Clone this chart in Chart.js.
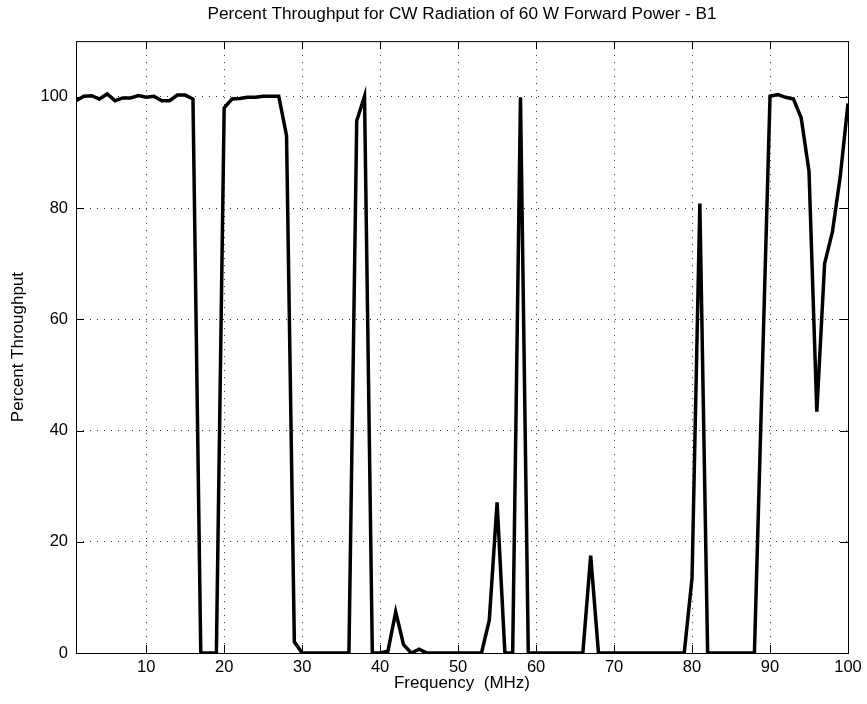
<!DOCTYPE html>
<html>
<head>
<meta charset="utf-8">
<script src="https://cdn.jsdelivr.net/npm/chart.js@4/dist/chart.umd.min.js"></script>
<style>
  html, body { margin: 0; padding: 0; background: #fff; }
  canvas { display: block; }
</style>
</head>
<body>
<canvas id="chart" width="867" height="704"></canvas>
<script>
// Frequency in MHz (1 MHz steps)
const frequencies = [
  1, 2, 3, 4, 5, 6, 7, 8, 9, 10,
  11, 12, 13, 14, 15, 16, 17, 18, 19, 20,
  21, 22, 23, 24, 25, 26, 27, 28, 29, 30,
  31, 32, 33, 34, 35, 36, 37, 38, 39, 40,
  41, 42, 43, 44, 45, 46, 47, 48, 49, 50,
  51, 52, 53, 54, 55, 56, 57, 58, 59, 60,
  61, 62, 63, 64, 65, 66, 67, 68, 69, 70,
  71, 72, 73, 74, 75, 76, 77, 78, 79, 80,
  81, 82, 83, 84, 85, 86, 87, 88, 89, 90,
  91, 92, 93, 94, 95, 96, 97, 98, 99, 100
];

// Percent throughput
const throughput = [
  99.3, 100.1, 100.2, 99.6, 100.5, 99.3, 99.8, 99.8, 100.2, 99.9,
  100.1, 99.3, 99.3, 100.3, 100.3, 99.6, 0, 0, 0, 98,
  99.6, 99.7, 99.9, 99.9, 100.1, 100.1, 100.1, 93, 2, 0,
  0, 0, 0, 0, 0, 0, 95.7, 100.1, 0, 0,
  0.3, 7.4, 1.5, 0, 0.7, 0, 0, 0, 0, 0,
  0, 0, 0, 5.9, 27.1, 0, 0, 99.9, 0, 0,
  0, 0, 0, 0, 0, 0, 17.5, 0, 0, 0,
  0, 0, 0, 0, 0, 0, 0, 0, 0, 13.5,
  80.8, 0, 0, 0, 0, 0, 0, 0, 50, 100.1,
  100.4, 99.9, 99.6, 96.2, 86.6, 43.4, 70, 75.7, 85.6, 98.8
];

const xTicks = [10, 20, 30, 40, 50, 60, 70, 80, 90, 100];
const yTicks = [0, 20, 40, 60, 80, 100];

const FONT = "'Liberation Sans', Arial, Helvetica, sans-serif";

// box around the plot plus inward tick marks on all four sides
const framePlugin = {
  id: "frame",
  afterDraw(chart) {
    const { ctx, chartArea: a, scales } = chart;
    ctx.save();
    ctx.strokeStyle = "#000";
    ctx.lineWidth = 1;
    ctx.strokeRect(a.left + 0.5, a.top + 0.5, a.right - a.left, a.bottom - a.top);
    ctx.beginPath();
    const len = 8;
    xTicks.forEach((v) => {
      const px = Math.round(scales.x.getPixelForValue(v)) + 0.5;
      ctx.moveTo(px, a.bottom);
      ctx.lineTo(px, a.bottom - len);
      ctx.moveTo(px, a.top);
      ctx.lineTo(px, a.top + len);
    });
    yTicks.forEach((v) => {
      const py = Math.round(scales.y.getPixelForValue(v)) + 0.5;
      ctx.moveTo(a.left, py);
      ctx.lineTo(a.left + len, py);
      ctx.moveTo(a.right, py);
      ctx.lineTo(a.right - len, py);
    });
    ctx.stroke();
    ctx.restore();
  }
};

new Chart(document.getElementById("chart"), {
  type: "line",
  data: {
    datasets: [
      {
        data: frequencies.map((f, i) => ({ x: f, y: throughput[i] })),
        borderColor: "#000",
        borderWidth: 3.5,
        borderJoinStyle: "miter",
        pointRadius: 0,
        tension: 0,
        fill: false
      }
    ]
  },
  options: {
    responsive: false,
    animation: false,
    layout: { padding: { left: 0, right: 19, top: 0, bottom: 0 } },
    plugins: {
      legend: { display: false },
      tooltip: { enabled: false },
      title: {
        display: true,
        fullSize: false,
        text: "Percent Throughput for CW Radiation of 60 W Forward Power - B1",
        color: "#000",
        font: { family: FONT, size: 17.2, weight: "normal" },
        padding: { top: 4, bottom: 16.5 }
      }
    },
    scales: {
      x: {
        type: "linear",
        min: 1,
        max: 100,
        afterBuildTicks: (scale) => { scale.ticks = xTicks.map((v) => ({ value: v })); },
        afterFit: (scale) => { scale.height = 51; },
        border: { display: false, dash: [1, 6] },
        grid: {
          color: "#333",
          lineWidth: 1,
          drawTicks: false
        },
        ticks: {
          color: "#000",
          font: { family: FONT, size: 16.5 },
          padding: 5,
          maxRotation: 0,
          autoSkip: false
        },
        title: {
          display: true,
          text: "Frequency  (MHz)",
          color: "#000",
          font: { family: FONT, size: 17 },
          padding: { top: 0, bottom: 10 }
        }
      },
      y: {
        type: "linear",
        min: 0,
        max: 110,
        afterBuildTicks: (scale) => { scale.ticks = yTicks.map((v) => ({ value: v })); },
        afterFit: (scale) => { scale.width = 76; },
        border: { display: false, dash: [1, 6] },
        grid: {
          color: "#333",
          lineWidth: 1,
          drawTicks: false
        },
        ticks: {
          color: "#000",
          font: { family: FONT, size: 16.5 },
          padding: 8
        },
        title: {
          display: true,
          text: "Percent Throughput",
          color: "#000",
          font: { family: FONT, size: 17 },
          padding: { top: 8, bottom: 0 }
        }
      }
    }
  },
  plugins: [framePlugin]
});
</script>
</body>
</html>
